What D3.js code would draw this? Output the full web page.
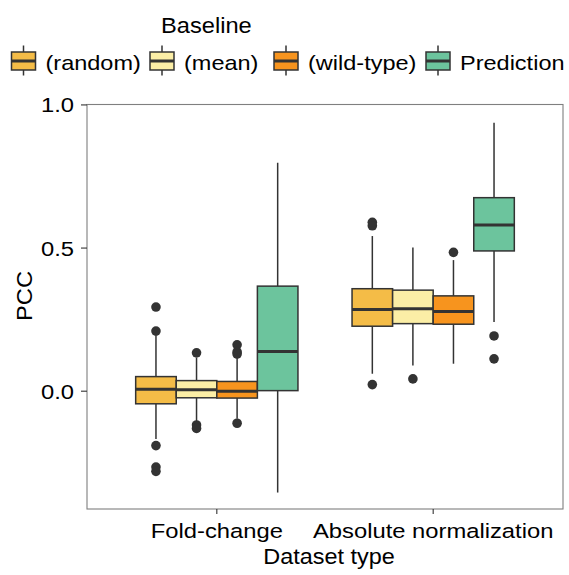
<!DOCTYPE html>
<html>
<head>
<meta charset="utf-8">
<script src="https://cdn.jsdelivr.net/npm/d3@7"></script>
<style>
  body { margin: 0; background: #fff; }
  svg text { font-family: "Liberation Sans", Arial, sans-serif; fill: #000; }
</style>
</head>
<body>
<svg width="569" height="575"></svg>
<script>
const datasetTypes = ["Fold-change", "Absolute normalization"]
const baselines = ["(random)", "(mean)", "(wild-type)", "Prediction"]
const fills = ["#F4BC47", "#FBEEA6", "#F7941E", "#6CC49D"]

// box stats per dataset type, one value per baseline
const whiskerLow = [[-0.167, -0.108, -0.096, -0.354], [0.061, 0.090, 0.096, 0.242]]
const q1 = [[-0.044, -0.023, -0.024, 0.002], [0.227, 0.236, 0.234, 0.490]]
const median = [[0.007, 0.005, 0.000, 0.139], [0.285, 0.288, 0.278, 0.581]]
const q3 = [[0.051, 0.037, 0.034, 0.367], [0.358, 0.353, 0.333, 0.676]]
const whiskerHigh = [[0.195, 0.117, 0.119, 0.798], [0.542, 0.502, 0.458, 0.938]]
const outliers = [
	[[0.294, 0.210, -0.190, -0.265, -0.280], [0.134, -0.118, -0.130], [0.162, 0.137, 0.130, -0.112], []],
	[[0.590, 0.578, 0.023], [0.043], [0.485], [0.193, 0.113]]
]
const yTicks = [0.0, 0.5, 1.0]

const svg = d3.select("svg")
const panel = { left: 87, right: 563, top: 104.5, bottom: 509 }

const y = d3.scaleLinear().domain([-0.4115, 1.0015]).range([panel.bottom, panel.top])
const x = d3.scaleLinear().domain([0.4, 2.6]).range([panel.left, panel.right])
const groupWidth = (x(1.75) - x(1))
const inner = d3.scaleBand().domain(baselines).range([-groupWidth / 2, groupWidth / 2])

// text with slightly wider glyphs, like the reference
function label(parent, str, px, py, size, anchor, sx, rotate) {
	const g = parent.append("g")
		.attr("transform", `translate(${px},${py})` + (rotate ? ` rotate(${rotate})` : "") + ` scale(${sx},1)`)
	g.append("text")
		.attr("text-anchor", anchor)
		.attr("font-size", size)
		.text(str)
	return g
}

// panel border
svg.append("rect")
	.attr("x", panel.left).attr("y", panel.top)
	.attr("width", panel.right - panel.left).attr("height", panel.bottom - panel.top)
	.attr("fill", "none").attr("stroke", "#7f7f7f").attr("stroke-width", 1.1)

// y axis
const yAxis = svg.append("g")
yTicks.forEach(t => {
	yAxis.append("line")
		.attr("x1", panel.left - 6).attr("x2", panel.left)
		.attr("y1", y(t)).attr("y2", y(t))
		.attr("stroke", "#333").attr("stroke-width", 1.1)
	label(yAxis, d3.format(".1f")(t), 74, y(t) + 7.5, 20.5, "end", 1.16)
})

// x axis
const xAxis = svg.append("g")
datasetTypes.forEach((d, i) => {
	xAxis.append("line")
		.attr("x1", x(i + 1)).attr("x2", x(i + 1))
		.attr("y1", panel.bottom).attr("y2", panel.bottom + 5)
		.attr("stroke", "#333").attr("stroke-width", 1.1)
	label(xAxis, d, x(i + 1), 537.5, 20.5, "middle", 1.16)
})

label(svg, "Dataset type", (panel.left + panel.right) / 2 + 4, 563.5, 21.5, "middle", 1.09)
label(svg, "PCC", 31.5, 296, 21.5, "middle", 1.1, -90)

// boxes
const boxW = inner.bandwidth()
const stroke = "#333333"
datasetTypes.forEach((d, i) => {
	const grp = svg.append("g").attr("transform", `translate(${x(i + 1)},0)`)
	baselines.forEach((b, j) => {
		const cx = inner(b) + boxW / 2
		const g = grp.append("g")
		g.append("line")
			.attr("x1", cx).attr("x2", cx)
			.attr("y1", y(whiskerHigh[i][j])).attr("y2", y(q3[i][j]))
			.attr("stroke", stroke).attr("stroke-width", 1.5)
		g.append("line")
			.attr("x1", cx).attr("x2", cx)
			.attr("y1", y(q1[i][j])).attr("y2", y(whiskerLow[i][j]))
			.attr("stroke", stroke).attr("stroke-width", 1.5)
		g.append("rect")
			.attr("x", inner(b)).attr("width", boxW)
			.attr("y", y(q3[i][j])).attr("height", y(q1[i][j]) - y(q3[i][j]))
			.attr("fill", fills[j]).attr("stroke", stroke).attr("stroke-width", 1.5)
		g.append("line")
			.attr("x1", inner(b)).attr("x2", inner(b) + boxW)
			.attr("y1", y(median[i][j])).attr("y2", y(median[i][j]))
			.attr("stroke", stroke).attr("stroke-width", 3)
		g.selectAll("circle")
			.data(outliers[i][j])
			.enter()
			.append("circle")
			.attr("cx", cx).attr("cy", v => y(v))
			.attr("r", 4.8)
			.attr("fill", stroke)
	})
})

// legend
const legend = svg.append("g")
label(legend, "Baseline", 161, 33, 21.5, "start", 1.1)
const keyX = [11.5, 150, 274, 426]
baselines.forEach((b, j) => {
	const k = legend.append("g").attr("transform", `translate(${keyX[j]},0)`)
	k.append("line")
		.attr("x1", 12).attr("x2", 12).attr("y1", 45.5).attr("y2", 75.5)
		.attr("stroke", stroke).attr("stroke-width", 1.5)
	k.append("rect")
		.attr("x", 0).attr("y", 52).attr("width", 24).attr("height", 18)
		.attr("fill", fills[j]).attr("stroke", stroke).attr("stroke-width", 1.5)
	k.append("line")
		.attr("x1", 0).attr("x2", 24).attr("y1", 61).attr("y2", 61)
		.attr("stroke", stroke).attr("stroke-width", 3)
	label(k, b, 34, 69.5, 21, "start", 1.12)
})
</script>
</body>
</html>
